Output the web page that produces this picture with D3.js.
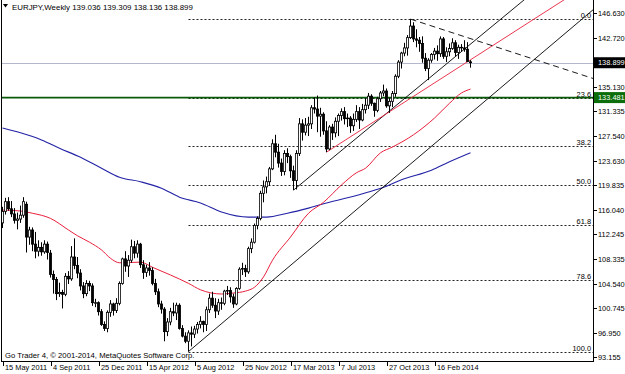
<!DOCTYPE html>
<html><head><meta charset="utf-8">
<script src="https://cdn.jsdelivr.net/npm/d3@7"></script>
<style>
body{margin:0;background:#fff}
svg{display:block;font-family:"Liberation Sans",Arial,sans-serif}
</style>
</head><body><svg id="c" width="625" height="374"></svg>
<script>
// ---------------- data ----------------
const chartTitle = "EURJPY,Weekly";
const lastQuote = ["139.036", "139.309", "138.136", "138.899"];
const copyrightText = "Go Trader 4, \u00A9 2001-2014, MetaQuotes Software Corp.";

// weekly bars from week of 15 May 2011: [open, high, low, close]
const ohlc = [
[114.0,116.5,113.2,115.8],[115.8,117.9,115.3,117.3],[117.3,118.0,115.9,116.2],[116.2,117.4,114.9,115.4],
[115.4,116.3,113.9,114.4],[114.4,115.6,113.0,114.6],[114.6,116.7,114.0,115.2],[115.2,118.0,114.8,117.3],
[116.9,117.3,109.4,111.8],[111.8,113.4,110.6,112.9],[112.9,113.3,109.6,110.7],[110.7,112.6,108.5,109.6],
[109.6,111.3,108.8,110.2],[110.2,111.0,108.9,109.5],[109.5,111.3,109.2,110.7],[110.7,111.1,108.3,109.4],
[109.3,109.8,105.5,106.0],[106.0,106.6,103.0,105.2],[105.2,105.6,102.0,103.0],[103.0,104.7,102.5,103.2],
[103.2,103.6,100.7,102.9],[102.9,106.2,102.6,105.7],[105.7,106.5,104.5,105.3],[105.3,110.4,105.0,108.7],
[108.7,111.6,106.8,107.4],[107.4,108.7,105.4,106.2],[106.2,106.8,103.5,104.2],[104.2,104.8,102.3,103.0],
[103.0,105.1,102.6,104.6],[104.6,105.0,103.4,104.2],[104.2,104.6,101.1,101.6],[101.6,102.2,100.9,101.6],
[101.6,101.8,99.6,100.2],[100.2,100.6,98.0,98.2],[98.2,98.7,97.2,97.6],[97.6,100.4,97.0,100.1],
[100.1,102.0,99.4,101.4],[101.4,101.6,99.6,100.4],[100.4,102.3,100.0,101.5],[101.5,104.9,101.2,104.6],
[104.6,108.6,104.4,108.4],[108.4,109.6,106.4,107.3],[107.3,109.0,105.6,108.2],[108.2,111.4,107.8,110.3],
[110.3,111.2,108.5,109.3],[109.3,111.3,108.6,110.7],[110.7,110.9,107.0,107.5],[107.5,108.2,105.3,106.3],
[106.3,107.5,105.6,107.0],[107.0,107.9,105.8,106.6],[106.6,107.1,104.3,104.6],[104.6,105.3,102.8,103.3],
[103.3,103.8,100.9,101.4],[101.4,101.9,99.9,100.6],[100.6,100.9,95.6,97.1],[97.1,99.2,96.4,98.6],
[98.6,100.8,98.1,100.2],[100.2,101.6,99.5,100.0],[100.0,101.6,98.9,101.2],[101.2,101.5,97.4,97.6],
[97.6,98.1,96.2,96.4],[96.4,97.0,95.3,95.6],[95.6,97.3,94.0,96.9],[96.9,97.9,94.8,96.7],
[96.7,98.0,96.1,97.5],[97.5,98.6,96.8,98.2],[98.2,99.5,97.6,98.7],[98.7,98.8,97.0,98.2],
[98.2,101.0,97.2,100.5],[100.5,103.0,100.0,102.3],[102.3,103.3,100.8,101.2],[101.2,102.3,99.2,100.3],
[100.3,102.2,99.7,101.6],[101.6,102.4,100.5,101.5],[101.5,103.6,101.2,103.4],[103.4,104.2,102.8,103.5],
[103.5,104.0,101.6,102.5],[102.5,103.0,100.8,101.4],[101.4,104.0,101.2,103.8],[103.8,107.1,103.6,106.8],
[106.8,107.8,105.9,106.9],[106.9,107.5,105.6,106.4],[106.4,110.3,106.1,110.0],[110.0,111.6,109.3,111.0],
[111.0,113.9,110.8,113.6],[113.6,115.0,113.0,114.7],[114.7,119.0,114.4,118.6],[118.6,120.6,117.2,119.6],
[119.6,121.2,118.6,120.4],[120.4,122.7,119.8,122.4],[122.4,127.0,122.2,126.3],[126.3,127.7,124.2,125.0],
[125.0,126.3,122.6,123.3],[123.3,124.0,121.3,122.0],[122.0,125.3,121.4,124.8],[124.8,125.6,123.3,124.3],
[124.3,124.6,121.0,122.1],[122.1,122.9,119.1,120.6],[120.6,125.3,119.2,124.8],[124.8,130.3,124.4,129.4],
[129.4,130.1,126.8,128.1],[128.1,130.3,127.6,129.2],[129.2,130.5,127.5,129.4],[129.4,132.3,128.6,131.9],
[131.9,133.5,131.0,131.7],[131.7,133.8,128.1,130.6],[130.6,131.9,127.4,130.9],[130.9,131.2,127.7,128.3],
[128.3,129.8,125.0,125.5],[125.5,129.2,125.3,128.9],[128.9,129.4,126.9,128.0],[128.0,130.4,127.3,129.8],
[129.8,131.0,127.5,130.7],[130.7,131.8,129.9,131.3],[131.3,132.0,129.3,130.2],[130.2,131.0,128.9,130.3],
[130.3,130.6,128.0,129.1],[129.1,131.0,128.3,130.1],[130.1,132.3,129.7,131.3],[131.3,132.0,128.6,130.0],
[130.0,132.5,129.8,131.6],[131.6,133.4,131.0,132.3],[132.3,134.2,131.7,133.7],[133.7,134.0,132.2,132.6],
[132.6,132.7,130.5,131.5],[131.5,133.6,131.2,133.3],[133.3,134.5,132.8,134.2],[134.2,135.5,133.7,134.5],
[134.5,134.9,131.9,132.2],[132.2,133.4,131.1,132.9],[132.9,134.5,132.0,134.1],[134.1,137.1,133.6,136.8],
[136.8,139.3,136.5,139.0],[139.0,140.6,138.0,140.4],[140.4,142.0,139.9,141.2],[141.2,143.2,140.0,142.8],
[142.8,145.7,142.6,144.6],[144.6,145.2,142.1,142.6],[142.6,144.1,141.3,142.4],[142.4,142.9,140.6,141.9],
[141.9,143.0,138.9,139.6],[139.6,140.4,137.6,138.0],[138.0,139.6,136.2,139.3],[139.3,140.4,138.9,140.2],
[140.2,141.2,139.4,140.7],[140.7,141.6,139.2,140.3],[140.3,143.0,139.8,142.6],[142.6,142.9,139.5,139.9],
[139.9,141.3,139.0,140.6],[140.6,141.9,139.9,141.1],[141.1,142.7,140.9,142.0],[142.0,142.4,139.9,140.5],
[140.5,141.7,139.5,141.3],[141.3,141.8,140.6,141.2],[141.2,142.4,140.6,141.0],[141.0,142.1,139.0,139.1],
[139.036,139.309,138.136,138.899]
];

// time axis labels: [label, bar index]
const timeLabels = [["15 May 2011",0],["4 Sep 2011",16],["25 Dec 2011",32],["15 Apr 2012",48],["5 Aug 2012",64],
  ["25 Nov 2012",80],["17 Mar 2013",96],["7 Jul 2013",112],["27 Oct 2013",128],["16 Feb 2014",144]];
// price axis labels
const priceLabels = [146.630,142.720,135.130,131.335,127.540,123.630,119.835,116.040,112.245,108.335,104.540,100.745,96.950,93.155];
const priceMin = 93.155, priceMax = 146.630;
const bidPrice = 138.899;
const supportLevel = 133.481;

// Fibonacci retracement anchors [bar index, price]
const fibLow = [62, 94.0];
const fibHigh = [136, 145.68];
const fibLevels = [0, 23.6, 38.2, 50, 61.8, 78.6, 100];

// moving averages: [bar index, price]
const redMA = [[0,116.0],[6,115.85],[10,115.5],[16,114.7],[22,112.9],[25,112.0],[29,111.0],[33,109.8],[36,108.5],
  [39,107.8],[46,107.9],[50,107.1],[56,105.9],[62,104.6],[66,103.6],[73,102.95],[77,103.1],[81,103.4],[84,104.0],
  [87,105.6],[90,108.2],[96,111.8],[102,115.5],[107,117.2],[113,119.9],[118,121.8],[121,122.5],[126,124.9],
  [130,125.8],[137,127.7],[144,130.3],[149,132.6],[153,134.2],[156,134.8]];
const blueMA = [[0,128.75],[6,128.0],[13,126.9],[19,125.6],[26,124.2],[33,122.5],[39,121.1],[46,120.4],[53,119.4],
  [59,118.0],[66,117.1],[73,115.7],[82,114.9],[88,114.9],[95,115.5],[102,116.3],[108,117.1],[115,117.9],
  [122,118.8],[128,119.7],[133,120.7],[143,122.2],[149,123.5],[156,124.9]];

// trend lines (rays): two anchors [bar index, price]
const trendLines = [
  {a:[62,94.0],   b:[190,144.43], color:"#000", dash:null},
  {a:[97,119.1],  b:[170,147.18], color:"#000", dash:null},
  {a:[108,125.0], b:[180,146.53], color:"#e8203c", dash:null},
  {a:[136,145.68],b:[180,139.01], color:"#000", dash:"6,4"}
];

// ---------------- drawing ----------------
const W = 625, H = 374;
const plotL = 1, plotR = 593, plotT = 0, plotB = 361;
const svg = d3.select("#c");
const FS = 7.4;

const x = d3.scaleLinear().domain([0, 156]).range([2.5, 470.5]);
const y = d3.scaleLinear().domain([priceMin, priceMax]).range([357, 13]);

svg.append("defs").append("clipPath").attr("id","plot")
  .append("rect").attr("x",plotL).attr("y",plotT).attr("width",plotR-plotL).attr("height",plotB-plotT);

const plot = svg.append("g").attr("clip-path","url(#plot)");

// bid line
plot.append("line").attr("x1",plotL).attr("x2",plotR)
  .attr("y1",Math.round(y(bidPrice))+0.5).attr("y2",Math.round(y(bidPrice))+0.5)
  .attr("stroke","#b4b8cc").attr("stroke-width",1);

// fibo
const fibG = plot.append("g");
fibLevels.forEach(l => {
  const p = fibHigh[1] - (fibHigh[1]-fibLow[1])*l/100;
  const yy = Math.round(y(p)) + 0.5;
  fibG.append("line").attr("x1", x(Math.min(fibLow[0],fibHigh[0]))).attr("x2", plotR)
    .attr("y1", yy).attr("y2", yy).attr("stroke","#222").attr("stroke-width",1).attr("stroke-dasharray","2,2");
  fibG.append("text").attr("x", 591).attr("y", yy-1.5).attr("text-anchor","end")
    .attr("font-size",FS).attr("fill","#000").text(l.toFixed(1));
});

// support line
plot.append("line").attr("x1",plotL).attr("x2",plotR)
  .attr("y1",y(supportLevel)).attr("y2",y(supportLevel))
  .attr("stroke","#0a5a0a").attr("stroke-width",1.6);

// moving averages
const maLine = d3.line().x(d=>x(d[0])).y(d=>y(d[1])).curve(d3.curveMonotoneX);
plot.append("path").datum(blueMA).attr("d",maLine).attr("fill","none").attr("stroke","#2323a6").attr("stroke-width",1.1);
plot.append("path").datum(redMA).attr("d",maLine).attr("fill","none").attr("stroke","#e8203c").attr("stroke-width",1);

// trend lines as rays
trendLines.forEach(t => {
  const x1 = x(t.a[0]), y1 = y(t.a[1]), x2 = x(t.b[0]), y2 = y(t.b[1]);
  const k = (y2-y1)/(x2-x1);
  const xe = 800, ye = y1 + k*(xe-x1);
  plot.append("line").attr("x1",x1).attr("y1",y1).attr("x2",xe).attr("y2",ye)
    .attr("stroke",t.color).attr("stroke-width",0.9)
    .attr("stroke-dasharray",t.dash);
});

// candles
const cg = plot.append("g");
ohlc.forEach((d,i) => {
  const [o,h,l,c] = d;
  const cx = x(i);
  cg.append("line").attr("x1",cx).attr("x2",cx).attr("y1",y(h)).attr("y2",y(l))
    .attr("stroke","#000").attr("stroke-width",1);
  const top = y(Math.max(o,c)), bot = y(Math.min(o,c));
  cg.append("rect").attr("x",cx-1.1).attr("width",2.2)
    .attr("y",top).attr("height",Math.max(bot-top,0.6))
    .attr("fill", c >= o ? "#fff" : "#000").attr("stroke","#000").attr("stroke-width",0.8);
});

// frame
svg.append("line").attr("x1",plotL+0.5).attr("x2",plotL+0.5).attr("y1",0).attr("y2",plotB+0.5).attr("stroke","#000");
svg.append("line").attr("x1",plotL).attr("x2",plotR+1).attr("y1",plotB+0.5).attr("y2",plotB+0.5).attr("stroke","#000");
svg.append("line").attr("x1",plotR+0.5).attr("x2",plotR+0.5).attr("y1",0).attr("y2",plotB+0.5).attr("stroke","#000");

// price axis
const pa = svg.append("g");
priceLabels.forEach(p => {
  const yy = Math.round(y(p))+0.5;
  pa.append("line").attr("x1",plotR).attr("x2",plotR+4).attr("y1",yy).attr("y2",yy).attr("stroke","#000");
  pa.append("text").attr("x",598).attr("y",yy+2.6).attr("font-size",FS).attr("fill","#000").text(p.toFixed(3));
});
// highlighted labels
[[bidPrice,"#000"],[supportLevel,"#0b6e0b"]].forEach(([p,col]) => {
  const yy = y(p);
  pa.append("rect").attr("x",594).attr("y",yy-5.5).attr("width",31).attr("height",11).attr("fill",col);
  pa.append("text").attr("x",598).attr("y",yy+2.6).attr("font-size",FS).attr("fill","#fff").text(p.toFixed(3));
});

// time axis
const ta = svg.append("g");
timeLabels.forEach(([lab,i]) => {
  const xx = Math.round(x(i)) + 0.5;
  ta.append("line").attr("x1",xx).attr("x2",xx).attr("y1",plotB).attr("y2",plotB+5).attr("stroke","#000");
  ta.append("text").attr("x",xx+1.5).attr("y",370).attr("font-size",FS).attr("fill","#000").text(lab);
});

// title
svg.append("path").attr("d","M3,4 L8,4 L5.5,7.5 Z").attr("fill","#000");
svg.append("text").attr("x",12).attr("y",10).attr("font-size",7.9).attr("fill","#000")
  .text(chartTitle + "  " + lastQuote.join(" "));
// copyright
svg.append("text").attr("x",5).attr("y",358).attr("font-size",7.7).attr("fill","#000").text(copyrightText);
</script>
</body></html>
